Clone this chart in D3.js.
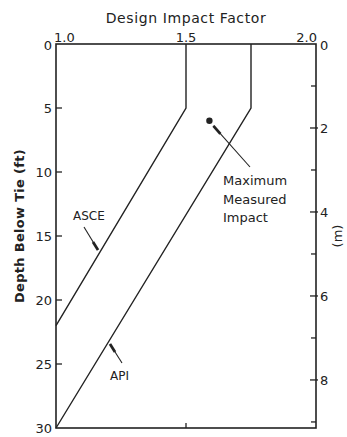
<!DOCTYPE html>
<html lang="en">
<head>
    <meta charset="UTF-8">
    <title>Design Impact Factor vs Depth</title>
    <script src="https://d3js.org/d3.v7.min.js"></script>
    <style>
        body { margin: 0; background: #fff; }
        text { font-family: "DejaVu Sans", sans-serif; fill: #222; }
        .frame { fill: none; stroke: #222; stroke-width: 1.6; }
        .curve { fill: none; stroke: #222; stroke-width: 1.4; }
        .tick-line { stroke: #222; stroke-width: 1.3; }
        .lead { stroke: #222; stroke-width: 1.1; }
    </style>
</head>
<body>
    <svg id="chart" width="347" height="437"></svg>
    <script>
        // data
        const factorTicks = [1.0, 1.5, 2.0];
        const depthTicks = [0, 5, 10, 15, 20, 25, 30];
        const meterMajor = [0, 2, 4, 6, 8];
        const meterMinor = [1, 3, 5, 7, 9];
        const asce = [[1.5, 0], [1.5, 5], [1.0, 22]];
        const api = [[1.75, 0], [1.75, 5], [1.0, 30]];
        const measured = [[1.59, 6]];

        const svg = d3.select("#chart");
        const x = d3.scaleLinear().domain([1.0, 2.0]).range([56, 316]);
        const y = d3.scaleLinear().domain([0, 30]).range([44, 428]);
        const ym = d3.scaleLinear().domain([0, 30 / 3.2808]).range([44, 428]);

        svg.append("rect").attr("class", "frame")
            .attr("x", x(1.0)).attr("y", y(0))
            .attr("width", x(2.0) - x(1.0)).attr("height", y(30) - y(0));

        // left axis (ft)
        depthTicks.forEach(d => {
            if (d > 0 && d < 30) {
                svg.append("line").attr("class", "tick-line")
                    .attr("x1", x(1.0)).attr("x2", x(1.0) + 6)
                    .attr("y1", y(d)).attr("y2", y(d));
            }
            svg.append("text").attr("x", x(1.0) - 4).attr("y", y(d) + (d === 0 ? 6 : 5))
                .attr("text-anchor", "end").attr("font-size", 13).text(d);
        });

        // top axis (labels nudged so the corner labels do not collide)
        factorTicks.forEach(f => {
            const anchor = f === 1.0 ? "start" : (f === 2.0 ? "end" : "middle");
            const dx = f === 1.0 ? -2 : (f === 2.0 ? 1 : 0);
            svg.append("text").attr("x", x(f) + dx).attr("y", y(0) - 2)
                .attr("text-anchor", anchor).attr("font-size", 13).text(f.toFixed(1));
        });
        svg.append("line").attr("class", "tick-line")
            .attr("x1", x(1.5)).attr("x2", x(1.5))
            .attr("y1", y(30)).attr("y2", y(30) - 5);

        // right axis (m)
        meterMajor.forEach(m => {
            if (m > 0) {
                svg.append("line").attr("class", "tick-line")
                    .attr("x1", x(2.0) - 6).attr("x2", x(2.0) + 2)
                    .attr("y1", ym(m)).attr("y2", ym(m));
            }
            svg.append("text").attr("x", x(2.0) + 4).attr("y", ym(m) + (m === 0 ? 6 : 5))
                .attr("font-size", 13).text(m);
        });
        meterMinor.forEach(m => {
            svg.append("line").attr("class", "tick-line")
                .attr("x1", x(2.0) - 5).attr("x2", x(2.0))
                .attr("y1", ym(m)).attr("y2", ym(m));
        });

        // axis titles
        svg.append("text").attr("x", 186).attr("y", 23).attr("text-anchor", "middle")
            .attr("font-size", 14).attr("letter-spacing", 0.6)
            .text("Design Impact Factor");
        svg.append("text").attr("transform", "translate(24,226) rotate(-90)")
            .attr("text-anchor", "middle").attr("font-size", 13).attr("font-weight", "bold")
            .attr("letter-spacing", 0.3).text("Depth Below Tie (ft)");
        svg.append("text").attr("transform", "translate(342,236) rotate(-90)")
            .attr("text-anchor", "middle").attr("font-size", 13).text("(m)");

        // design curves
        const line = d3.line().x(d => x(d[0])).y(d => y(d[1]));
        svg.append("path").attr("class", "curve").attr("d", line(asce));
        svg.append("path").attr("class", "curve").attr("d", line(api));

        // measured point
        svg.selectAll(".pt").data(measured).join("circle")
            .attr("cx", d => x(d[0])).attr("cy", d => y(d[1]))
            .attr("r", 3.2).attr("fill", "#222");

        // labels with leaders
        function leader(x1, y1, x2, y2, xh, yh) {
            svg.append("line").attr("class", "lead")
                .attr("x1", x1).attr("y1", y1).attr("x2", x2).attr("y2", y2);
            svg.append("line").attr("stroke", "#222").attr("stroke-width", 2.8)
                .attr("x1", xh).attr("y1", yh).attr("x2", x2).attr("y2", y2);
        }
        svg.append("text").attr("x", 73).attr("y", 220).attr("font-size", 12).text("ASCE");
        leader(84, 227, 98, 250, 93, 242);
        svg.append("text").attr("x", 110).attr("y", 380).attr("font-size", 12).text("API");
        leader(122, 363, 110, 344, 115, 352);

        const mx = x(measured[0][0]), my = y(measured[0][1]);
        leader(250, 167, mx + 4, my + 5, mx + 11, my + 13);
        ["Maximum", "Measured", "Impact"].forEach((t, i) => {
            svg.append("text").attr("x", 223).attr("y", 185 + i * 18.5)
                .attr("font-size", 13).text(t);
        });
    </script>
</body>
</html>
